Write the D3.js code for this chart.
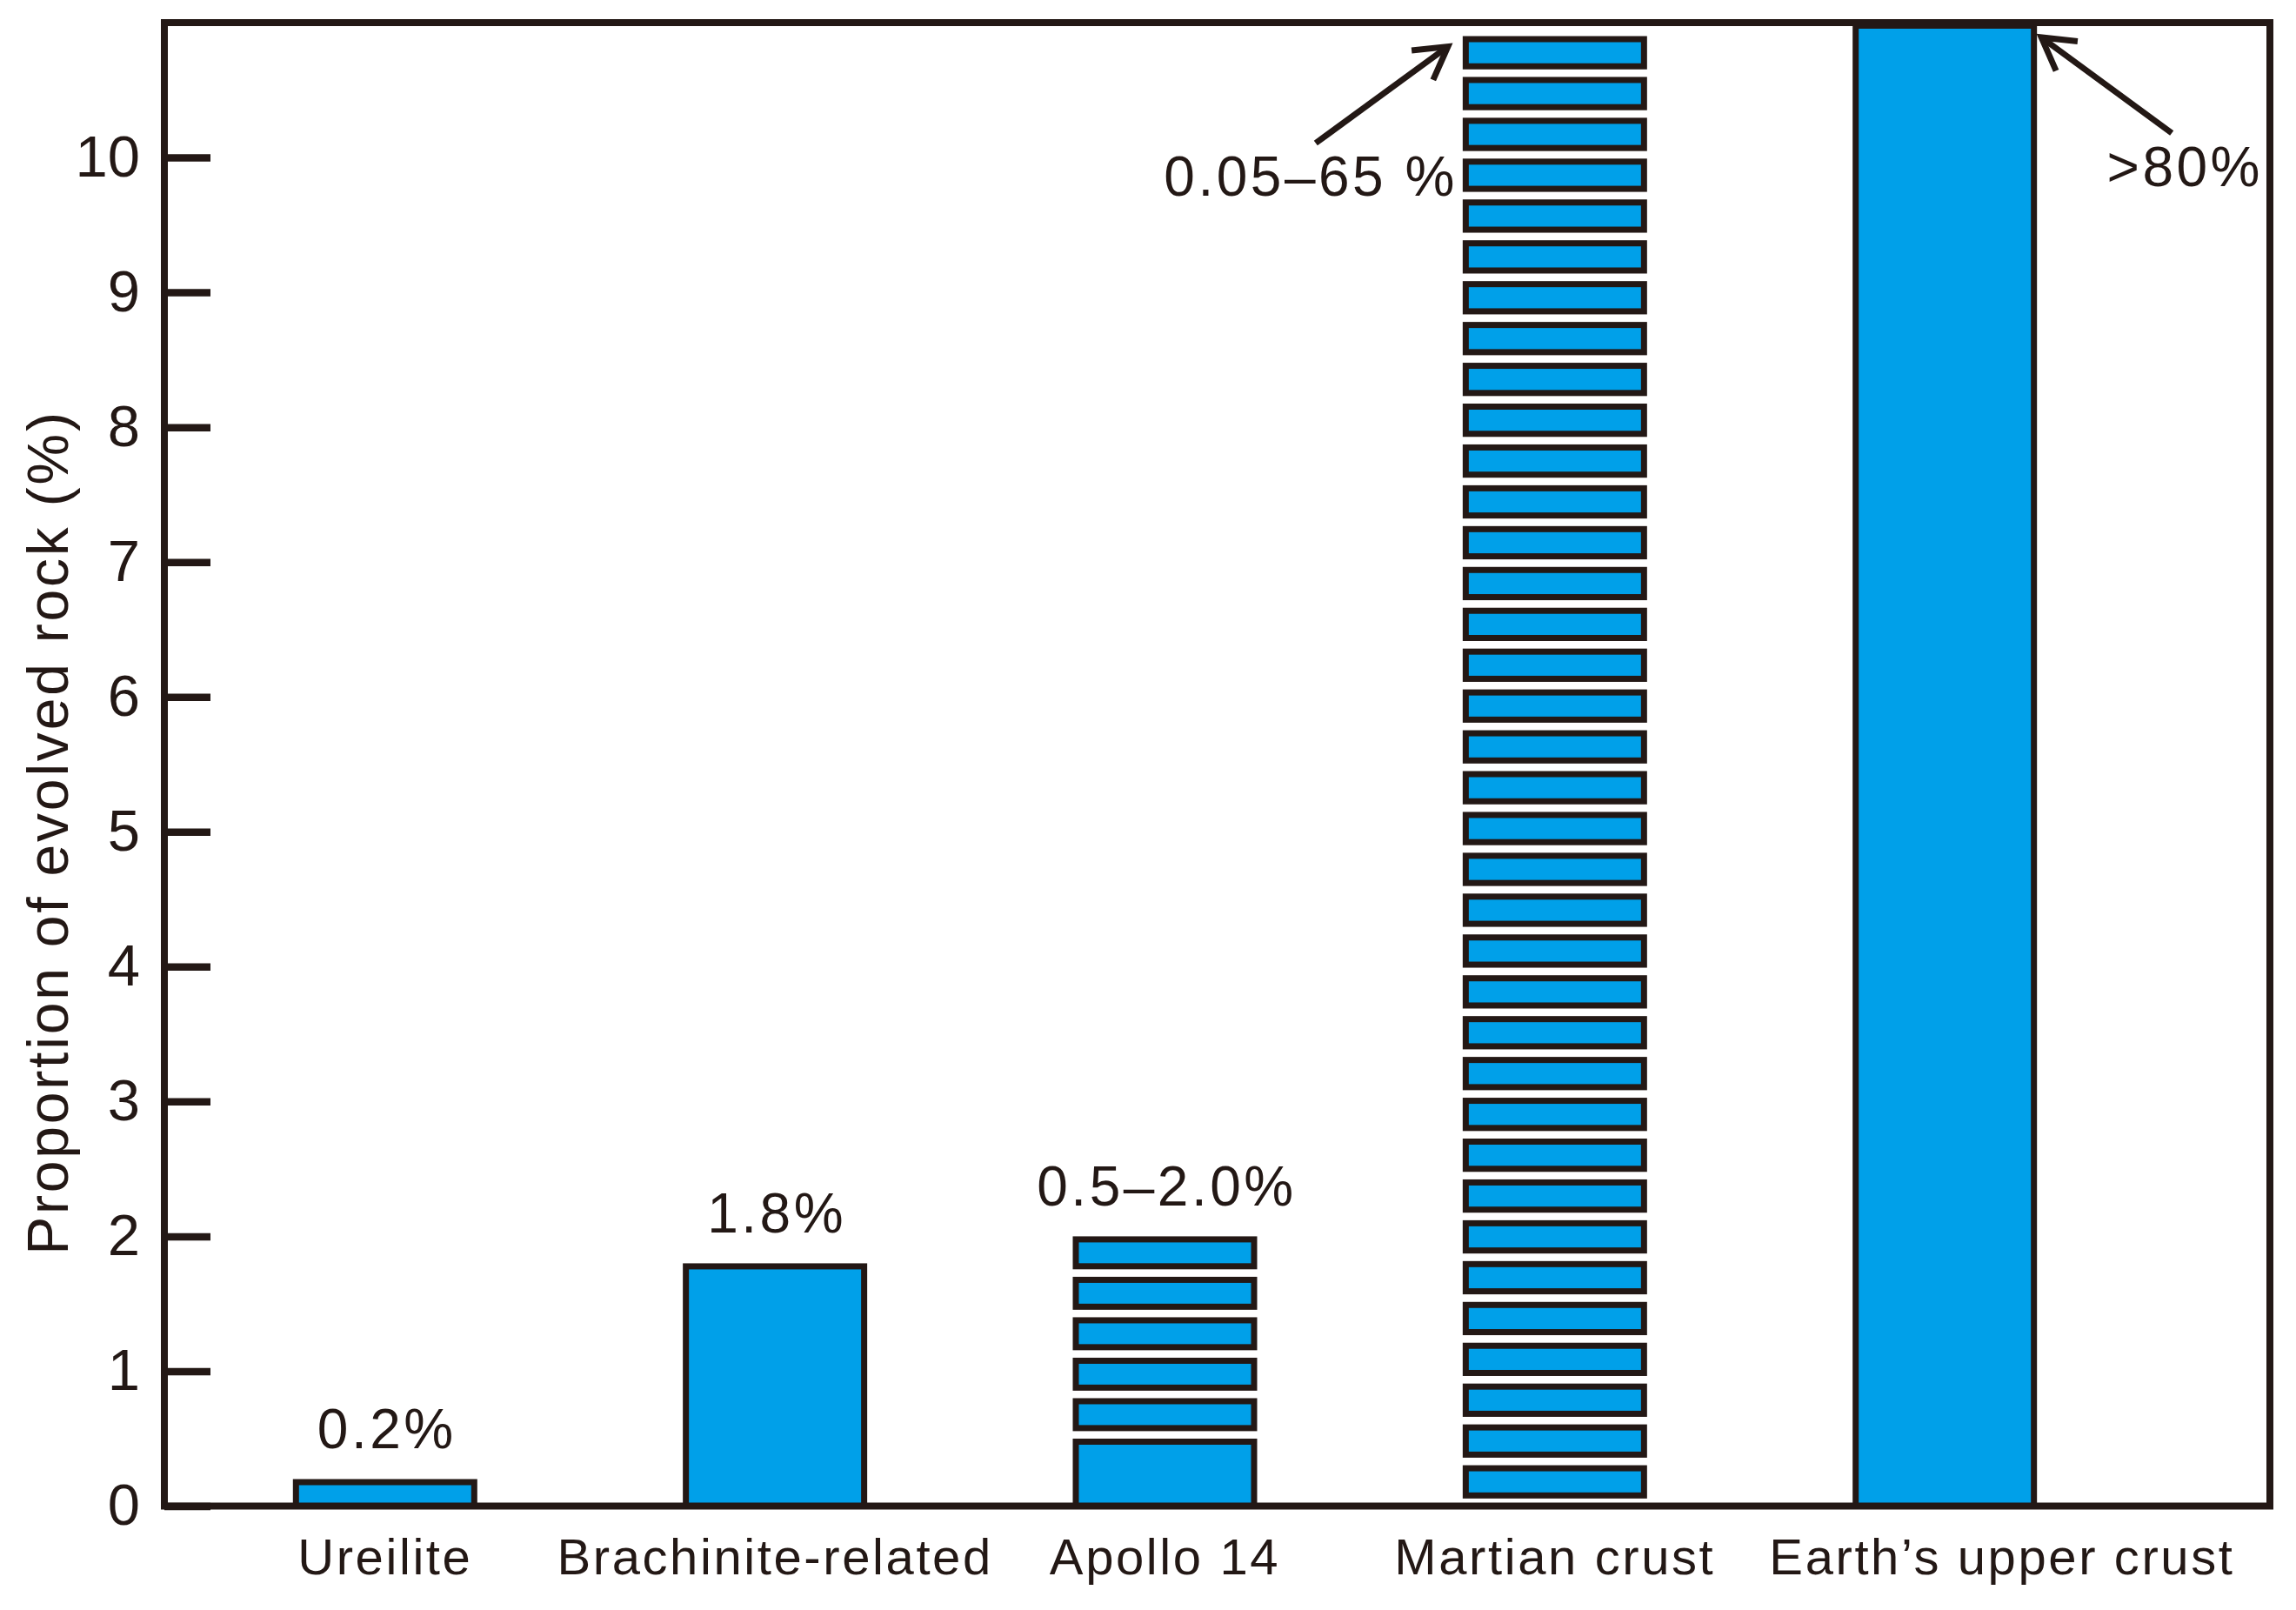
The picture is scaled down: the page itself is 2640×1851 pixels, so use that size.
<!DOCTYPE html>
<html>
<head>
<meta charset="utf-8">
<script src="https://cdn.jsdelivr.net/npm/d3@7"></script>
<style>
  html, body { margin: 0; padding: 0; background: #fff; }
  svg { display: block; }
</style>
</head>
<body>
<div id="chart"></div>
<script>
// ---------------- data ----------------
const categories   = ["Ureilite", "Brachinite-related", "Apollo 14", "Martian crust", "Earth’s upper crust"];
const solidValues  = [0.2, 1.8, 0.5, 0, 11];        // solid part of each bar (Earth clipped at axis top)
const rangeLow     = [null, null, 0.5, 0, null];     // lower end of hatched range
const rangeHigh    = [null, null, 2.0, 10.9, null];  // upper end of hatched range
const stripeCounts = [0, 0, 5, 36, 0];               // number of stripes in hatched range
const valueLabels  = ["0.2%", "1.8%", "0.5–2.0%", "0.05–65 %", ">80%"];
const yTicks       = [0, 1, 2, 3, 4, 5, 6, 7, 8, 9, 10];
const yDomain      = [0, 11];
const yTitle       = "Proportion of evolved rock (%)";

// ---------------- layout / style ----------------
const W = 2640, H = 1851;
const M = { left: 189, right: 2610, top: 26, bottom: 1731.5 };
const INK = "#231815", BLUE = "#00A0E9";
const FONT = "'Liberation Sans', Arial, Helvetica, sans-serif";
const SW = 7;            // bar outline width
const FILL = 0.815;      // filled fraction of each stripe period
const arrowSide = { "Martian crust": "left", "Earth’s upper crust": "right" };

const svg = d3.select("#chart").append("svg").attr("width", W).attr("height", H);
svg.append("rect").attr("width", W).attr("height", H).attr("fill", "#fff");

const y = d3.scaleLinear().domain(yDomain).range([M.bottom, M.top]);
const x = d3.scaleBand().domain(categories).range([M.left, M.right])
  .paddingInner(0.5428).paddingOuter(0.4713).align(0.358);
const bw = x.bandwidth();

const data = categories.map((c, i) => ({
  c, i, solid: solidValues[i], lo: rangeLow[i], hi: rangeHigh[i], n: stripeCounts[i], label: valueLabels[i]
}));

// ---------------- bars ----------------
const barsG = svg.append("g");
data.filter(d => d.solid > 0).forEach(d => {
  const top = y(Math.min(d.solid, yDomain[1]));
  barsG.append("rect")
    .attr("x", x(d.c)).attr("y", top + SW / 2)
    .attr("width", bw).attr("height", y(0) - top - SW / 2)
    .attr("fill", BLUE).attr("stroke", INK).attr("stroke-width", SW);
});

// hatched (striped) ranges
data.filter(d => d.n > 0).forEach(d => {
  const period = (d.hi - d.lo) / d.n;
  const tops = d3.range(d.n).map(k => d.lo + (k + 1) * period);
  barsG.append("g").selectAll("rect").data(tops).join("rect")
    .attr("x", x(d.c))
    .attr("y", v => y(v) + SW / 2)
    .attr("width", bw)
    .attr("height", v => (y(v - period) - y(v)) * FILL - SW)
    .attr("fill", BLUE).attr("stroke", INK).attr("stroke-width", SW);
});

// ---------------- axes ----------------
const gy = svg.append("g").attr("transform", `translate(${M.left},0)`)
  .call(d3.axisLeft(y).tickValues(yTicks).tickSizeInner(-53).tickSizeOuter(0)
        .tickPadding(28).tickFormat(d3.format("d")));
gy.select(".domain").remove();
gy.selectAll(".tick line").attr("stroke", INK).attr("stroke-width", 8.5);
gy.selectAll(".tick text").attr("fill", INK)
  .style("font-family", FONT).style("font-size", "67px");

const gx = svg.append("g").attr("transform", `translate(0,${M.bottom})`)
  .call(d3.axisBottom(x).tickSize(0).tickPadding(0));
gx.select(".domain").remove();
gx.selectAll(".tick text").attr("dy", null).attr("y", 78.5).attr("fill", INK)
  .style("font-family", FONT).style("font-size", "58px").style("letter-spacing", "2.6px");

// keep category labels from colliding (push right)
{
  let prevRight = -Infinity;
  gx.selectAll(".tick").each(function (c) {
    const t = d3.select(this).select("text");
    const bb = t.node().getBBox();
    const cx = x(c) + bw / 2;
    let left = cx + bb.x;
    const minLeft = prevRight + 62;
    if (left < minLeft) {
      const shift = minLeft - left;
      t.attr("x", shift);
      left += shift;
    }
    prevRight = left + bb.width;
  });
}

// frame
svg.append("rect")
  .attr("x", M.left).attr("y", y(yDomain[1]))
  .attr("width", M.right - M.left).attr("height", y(0) - y(yDomain[1]))
  .attr("fill", "none").attr("stroke", INK).attr("stroke-width", 8);

// ---------------- value labels ----------------
const annG = svg.append("g").attr("fill", INK)
  .style("font-family", FONT).style("font-size", "64px").style("letter-spacing", "3.5px");

function arrow(tip, tail) {
  const dx = tail[0] - tip[0], dy = tail[1] - tip[1];
  const len = Math.hypot(dx, dy);
  const ux = dx / len, uy = dy / len;
  const L = 42, a = Math.PI / 6;
  const rot = (ang) => [tip[0] + L * (ux * Math.cos(ang) - uy * Math.sin(ang)),
                        tip[1] + L * (ux * Math.sin(ang) + uy * Math.cos(ang))];
  const p1 = rot(a), p2 = rot(-a);
  const g = svg.append("g").attr("stroke", INK).attr("stroke-width", 7).attr("fill", "none");
  g.append("line").attr("x1", tip[0] + ux * 3).attr("y1", tip[1] + uy * 3)
    .attr("x2", tail[0]).attr("y2", tail[1]);
  g.append("path").attr("d", d3.line()([p1, tip, p2])).attr("stroke-linejoin", "miter");
}

data.forEach(d => {
  const side = arrowSide[d.c];
  const topVal = d.n > 0 ? d.hi : d.solid;
  if (!side) {
    annG.append("text")
      .attr("x", x(d.c) + bw / 2 + 2).attr("y", y(topVal) - 35)
      .attr("text-anchor", "middle").text(d.label);
  } else if (side === "left") {
    const outerLeft = x(d.c) - SW / 2;
    const top = y(topVal);
    annG.append("text")
      .attr("x", outerLeft - 6).attr("y", top + 183)
      .attr("text-anchor", "end").text(d.label);
    const tip = [outerLeft - 17, top + 12];
    arrow(tip, [tip[0] - 152, tip[1] + 111]);
  } else {
    const outerRight = x(d.c) + bw + SW / 2;
    const top = y(yDomain[1]);
    annG.append("text")
      .attr("x", M.right - 8).attr("y", top + 188)
      .attr("text-anchor", "end").text(d.label);
    const tip = [outerRight + 5, top + 17];
    arrow(tip, [tip[0] + 150, tip[1] + 110]);
  }
});

// ---------------- y title ----------------
svg.append("text")
  .attr("transform", `translate(78,957) rotate(-90)`)
  .attr("text-anchor", "middle").attr("fill", INK)
  .style("font-family", FONT).style("font-size", "66px").style("letter-spacing", "2.8px")
  .text(yTitle);
</script>
</body>
</html>
